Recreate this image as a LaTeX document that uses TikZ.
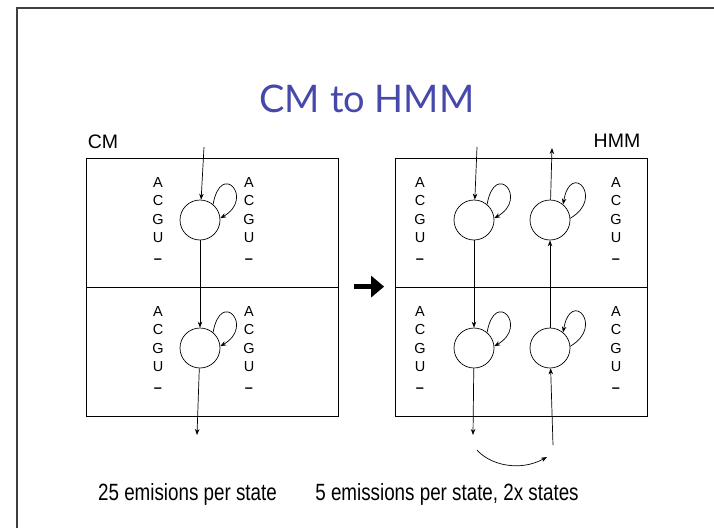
\documentclass[tikz,border=0pt]{standalone}
\usepackage{fontspec}
\setmainfont{Liberation Sans}
\newfontfamily\narrowfont{Liberation Sans}[FakeStretch=0.8]
\newfontfamily\titlefont{Lato}
\usepackage{xcolor}
\usetikzlibrary{arrows.meta}
\definecolor{titleblue}{RGB}{70,72,170}

\begin{document}
\begin{tikzpicture}[
    x=1pt, y=-1pt,
    panel/.style={rectangle, draw, minimum width=252pt, minimum height=129pt, inner sep=0pt, line width=0.8pt},
    state/.style={circle, draw, minimum size=40pt, inner sep=0pt, line width=0.7pt},
    emit/.style={anchor=north, align=center, inner sep=0pt, font=\fontsize{14.5}{18.5}\selectfont},
    label/.style={font=\fontsize{19.5}{22}\selectfont},
    count/.style={anchor=base, font=\narrowfont\fontsize{23.5}{28}\selectfont},
    arrow/.style={-{Stealth[length=6pt,width=4.5pt]}, line width=0.7pt},
    bigarrow/.style={-{Triangle[length=13pt,width=21pt]}, line width=5pt}
]
\useasboundingbox (0,0) rectangle (714,528);

% Slide frame
\draw[line width=1.5pt, black!75] (17,528) -- (17,8) -- (714,8);

% Title
\node[anchor=base, font=\titlefont\fontsize{38}{44}\selectfont, text=titleblue] (title) at (367,112) {CM to HMM};

% Panels
\node[panel] at (212,222.5) (cmtop) {};
\node[panel] at (212,351.5) (cmbot) {};
\node[panel] at (521.5,222.5) (hmmtop) {};
\node[panel] at (521.5,351.5) (hmmbot) {};
\node[label] at (103,142) (cmlabel) {CM};
\node[label] at (617,141) (hmmlabel) {HMM};

% CM states and emissions
\node[state] at (200,220) (cmupper) {};
\node[state] at (200,348) (cmlower) {};
\node[emit] at (158,177) (cmtopl) {A\\C\\G\\U\\[2pt]\textbf{–}};
\node[emit] at (249,177) (cmtopr) {A\\C\\G\\U\\[2pt]\textbf{–}};
\node[emit] at (158,306) (cmbotl) {A\\C\\G\\U\\[2pt]\textbf{–}};
\node[emit] at (249,306) (cmbotr) {A\\C\\G\\U\\[2pt]\textbf{–}};

% HMM states and emissions
\node[state] at (474,220) (hmmupl) {};
\node[state] at (474,348) (hmmlowl) {};
\node[state] at (550,220) (hmmupr) {};
\node[state] at (550,348) (hmmlowr) {};
\node[emit] at (420,177) (hmmtopl) {A\\C\\G\\U\\[2pt]\textbf{–}};
\node[emit] at (616,177) (hmmtopr) {A\\C\\G\\U\\[2pt]\textbf{–}};
\node[emit] at (420,306) (hmmbotl) {A\\C\\G\\U\\[2pt]\textbf{–}};
\node[emit] at (616,306) (hmmbotr) {A\\C\\G\\U\\[2pt]\textbf{–}};

% Free ends of the connectors
\coordinate (cmin) at (204,147);
\coordinate (cmout) at (197,435);
\coordinate (hmmin) at (477,147);
\coordinate (hmmout) at (473,435);
\coordinate (hmmback) at (553,445);
\coordinate (hmmexit) at (552,148);
\coordinate (wrapa) at (477,450);
\coordinate (wrapb) at (547,457);

% CM transitions
\draw[arrow] (cmin) -- (cmupper);
\draw[arrow] (cmupper) -- (cmlower);
\draw[arrow] (cmlower) -- (cmout);
\draw[arrow] (cmupper.50) to[out=80, in=30, out distance=45pt, in distance=40pt] (cmupper.5);
\draw[arrow] (cmlower.50) to[out=80, in=30, out distance=45pt, in distance=40pt] (cmlower.5);

% HMM transitions, down the left column and back up the right
\draw[arrow] (hmmin) -- (hmmupl);
\draw[arrow] (hmmupl) -- (hmmlowl);
\draw[arrow] (hmmlowl) -- (hmmout);
\draw[arrow] (hmmback) -- (hmmlowr);
\draw[arrow] (hmmlowr) -- (hmmupr);
\draw[arrow] (hmmupr) -- (hmmexit);
\draw[arrow] (wrapa) .. controls (490,465) and (520,472) .. (wrapb);
\draw[arrow] (hmmupl.50) to[out=80, in=30, out distance=45pt, in distance=40pt] (hmmupl.5);
\draw[arrow] (hmmlowl.50) to[out=80, in=30, out distance=45pt, in distance=40pt] (hmmlowl.5);
\draw[arrow] (hmmupr.5) to[out=30, in=80, out distance=40pt, in distance=45pt] (hmmupr.50);
\draw[arrow] (hmmlowr.5) to[out=30, in=80, out distance=40pt, in distance=45pt] (hmmlowr.50);

% CM to HMM
\draw[bigarrow] ([xshift=16pt]cmbot.north east) -- ([xshift=-11pt]hmmbot.north west);

% Counts
\node[count] at (187.5,500) (cmcount) {25 emisions per state};
\node[count] at (447,500) (hmmcount) {5 emissions per state, 2x states};

\end{tikzpicture}
\end{document}
